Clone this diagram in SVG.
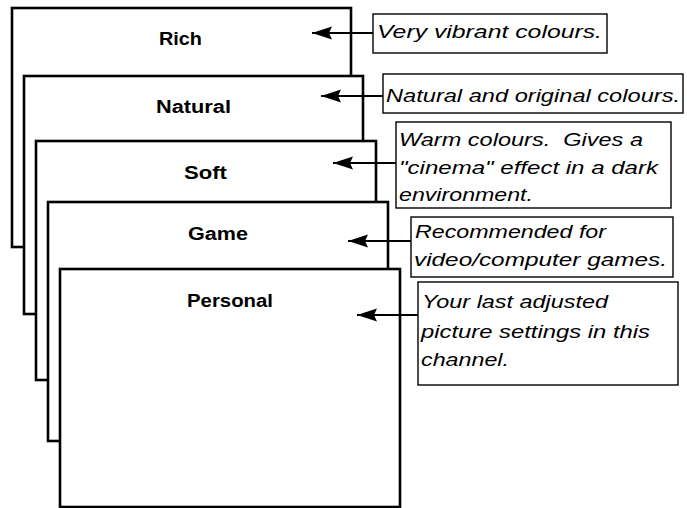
<svg xmlns="http://www.w3.org/2000/svg" width="687" height="508" viewBox="0 0 687 508">
<style>
.scr{fill:#fff;stroke:#000;stroke-width:2.6}
.lbl{font-family:"Liberation Sans",Arial,sans-serif;font-weight:bold;font-size:18px;text-anchor:middle;fill:#000}
.box{fill:#fff;stroke:#000;stroke-width:1.4}
.note{font-family:"Liberation Sans",Arial,sans-serif;font-style:italic;font-size:18px;fill:#000;white-space:pre}
.con{stroke:#000;stroke-width:2;fill:none;marker-end:url(#ah)}
</style>
<defs>
<marker id="ah" markerUnits="userSpaceOnUse" markerWidth="22" markerHeight="14" refX="20" refY="6.5" orient="auto">
<path d="M0,0 L20,6.5 L0,13 L3,6.5 Z" fill="#000"/>
</marker>
</defs>
<g id="rich"><rect class="scr" x="12" y="8" width="339" height="239"/><text class="lbl" x="180.5" y="45" textLength="43" lengthAdjust="spacingAndGlyphs">Rich</text></g>
<g id="natural"><rect class="scr" x="24" y="76" width="339" height="238"/><text class="lbl" x="193.5" y="113" textLength="75" lengthAdjust="spacingAndGlyphs">Natural</text></g>
<g id="soft"><rect class="scr" x="36" y="141" width="340" height="239"/><text class="lbl" x="205.5" y="179" textLength="43" lengthAdjust="spacingAndGlyphs">Soft</text></g>
<g id="game"><rect class="scr" x="48" y="202" width="340" height="239"/><text class="lbl" x="218" y="240" textLength="60" lengthAdjust="spacingAndGlyphs">Game</text></g>
<g id="personal"><rect class="scr" x="60" y="269" width="340" height="238"/><text class="lbl" x="230" y="307" textLength="86" lengthAdjust="spacingAndGlyphs">Personal</text></g>
<g id="note-rich"><rect class="box" x="373" y="14" width="234" height="39"/><text class="note" x="377" y="38" textLength="225" lengthAdjust="spacingAndGlyphs">Very vibrant colours.</text></g>
<g id="note-natural"><rect class="box" x="383" y="74" width="300" height="39"/><text class="note" x="386" y="102" textLength="294" lengthAdjust="spacingAndGlyphs">Natural and original colours.</text></g>
<g id="note-soft"><rect class="box" x="396" y="122" width="275" height="86"/><text class="note" x="399" y="146" textLength="244" lengthAdjust="spacingAndGlyphs">Warm colours.  Gives a</text><text class="note" x="399" y="174" textLength="259" lengthAdjust="spacingAndGlyphs">"cinema" effect in a dark</text><text class="note" x="399" y="201" textLength="134" lengthAdjust="spacingAndGlyphs">environment.</text></g>
<g id="note-game"><rect class="box" x="411" y="217" width="262" height="60"/><text class="note" x="415" y="238" textLength="191" lengthAdjust="spacingAndGlyphs">Recommended for</text><text class="note" x="414" y="266" textLength="253" lengthAdjust="spacingAndGlyphs">video/computer games.</text></g>
<g id="note-personal"><rect class="box" x="418" y="282" width="260" height="103"/><text class="note" x="422" y="308" textLength="186" lengthAdjust="spacingAndGlyphs">Your last adjusted</text><text class="note" x="421" y="338" textLength="229" lengthAdjust="spacingAndGlyphs">picture settings in this</text><text class="note" x="421" y="366" textLength="88" lengthAdjust="spacingAndGlyphs">channel.</text></g>
<g id="connectors">
<line class="con" x1="373" y1="33" x2="312" y2="33"/>
<line class="con" x1="383" y1="96" x2="321" y2="96"/>
<line class="con" x1="396" y1="163" x2="333" y2="163"/>
<line class="con" x1="411" y1="241" x2="348" y2="241"/>
<line class="con" x1="418" y1="315" x2="357" y2="315"/>
</g>
</svg>
